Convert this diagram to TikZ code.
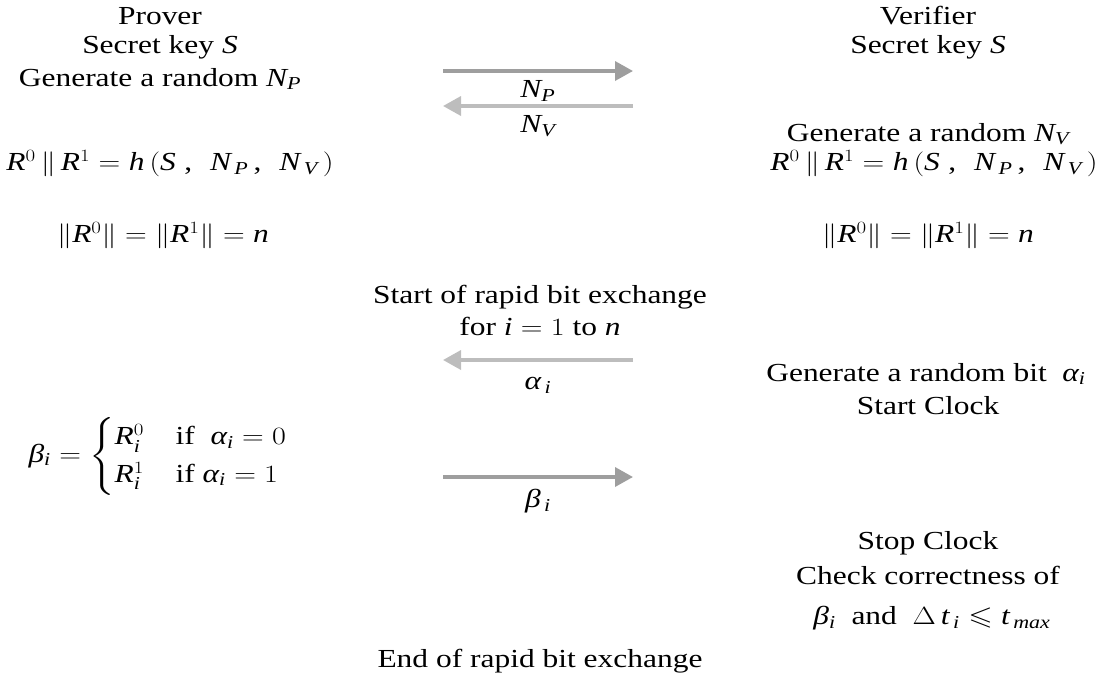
\documentclass[tikz,border=0pt]{standalone}
\usepackage{amsmath,amssymb}
\usepackage{graphicx}
\usepackage{fontspec}
\setmainfont{Liberation Serif}
\usetikzlibrary{arrows.meta}
\DeclareSymbolFont{timesit}{TU}{\rmdefault}{m}{it}
\DeclareSymbolFont{timesup}{TU}{\rmdefault}{m}{n}
\newcommand\mitletter[1]{\Umathcode`#1="7 \symtimesit `#1\relax}
\newcommand\mupchar[2]{\Umathcode`#2="#1 \symtimesup `#2\relax}
\mitletter R \mitletter h \mitletter S \mitletter N \mitletter P \mitletter V
\mitletter n \mitletter i \mitletter t \mitletter m \mitletter a \mitletter x
\mupchar{7}{0} \mupchar{7}{1}
\mupchar{3}{=} \mupchar{4}{(} \mupchar{5}{)} \mupchar{6}{,}
\Umathchardef\alpha="7 \symtimesit "03B1
\Umathchardef\beta="7 \symtimesit "03B2
\Umathchardef\Delta="7 \symtimesup "0394
\newcommand\W[1]{\scalebox{1.21}[1]{#1}}
\newcommand\hashformula{$R^0\,\|\,R^1 = h\,(S\;,\ \,N_{\,P}\,,\ \,N_{\,V}\,)$}
\definecolor{arrowdark}{HTML}{9E9E9E}
\definecolor{arrowlight}{HTML}{BDBDBD}
\begin{document}
\begin{tikzpicture}[x=1pt,y=-1pt,
  txt/.style={inner sep=0pt, align=center, font=\fontsize{26}{31}\selectfont},
  msgdark/.style={draw=arrowdark, line width=3.5pt, -{Triangle[length=18pt,width=19pt]}},
  msglight/.style={draw=arrowlight, line width=3.5pt, -{Triangle[length=18pt,width=19pt]}}]
\useasboundingbox (0,0) rectangle (1098,678);
% Prover column
\node[txt] (prover) at (160,16) {\W{Prover}};
\node[txt] (pkey) at (160,47) {\W{Secret key \textit{S}}};
\node[txt] (pnonce) at (160,79) {\W{Generate a random \textit{N\textsubscript{P}}}};
\node[txt] (phash) at (170,164) {\W{\hashformula}};
\node[txt] (pnorm) at (163,236) {\W{$\|R^0\| = \|R^1\| = n$}};
\node[txt] (pbeta) at (158,456) {\W{$\beta_i = \begin{cases} R_i^0 & \text{if }\ \alpha_i = 0\\ R_i^1 & \text{if }\alpha_i = 1\end{cases}$}};
% Verifier column
\node[txt] (verifier) at (928,16) {\W{Verifier}};
\node[txt] (vkey) at (928,47) {\W{Secret key \textit{S}}};
\node[txt] (vnonce) at (928,134) {\W{Generate a random \textit{N\textsubscript{V}}}};
\node[txt] (vhash) at (934,164) {\W{\hashformula}};
\node[txt] (vnorm) at (928,236) {\W{$\|R^0\| = \|R^1\| = n$}};
\node[txt] (vbit) at (926,374) {\W{Generate a random bit\ \ $\alpha_i$}};
\node[txt] (vstart) at (928,406) {\W{Start Clock}};
\node[txt] (vstop) at (928,543) {\W{Stop Clock}};
\node[txt] (vcheck) at (928,575) {\W{Check correctness of}};
\node[txt] (vcond) at (932,618) {\W{$\beta_i$\ \ and\ \ $\Delta\, t_{\,i} \leqslant t_{\,max}$}};
% Middle
\node[txt] (start) at (540,297) {\W{Start of rapid bit exchange}};
\node[txt] (loop) at (540,326) {\W{for $i = 1$\ to\ $n$}};
\node[txt] (endex) at (540,661) {\W{End of rapid bit exchange}};
% Arrows
\coordinate (a1l) at (443,71);  \coordinate (a1r) at (633,71);
\coordinate (a2l) at (443,106); \coordinate (a2r) at (633,106);
\coordinate (a3l) at (443,360); \coordinate (a3r) at (633,360);
\coordinate (a4l) at (443,477); \coordinate (a4r) at (633,477);
\draw[msgdark] (a1l) -- (a1r);
\draw[msglight] (a2r) -- (a2l);
\draw[msglight] (a3r) -- (a3l);
\draw[msgdark] (a4l) -- (a4r);
\node[txt] (lnp) at (538,91) {\W{\textit{N\textsubscript{P}}}};
\node[txt] (lnv) at (538,126) {\W{\textit{N\textsubscript{V}}}};
\node[txt] (lalpha) at (538,385) {\W{$\alpha_{\,i}$}};
\node[txt] (lbeta) at (538,501) {\W{$\beta_{\,i}$}};
\end{tikzpicture}
\end{document}
